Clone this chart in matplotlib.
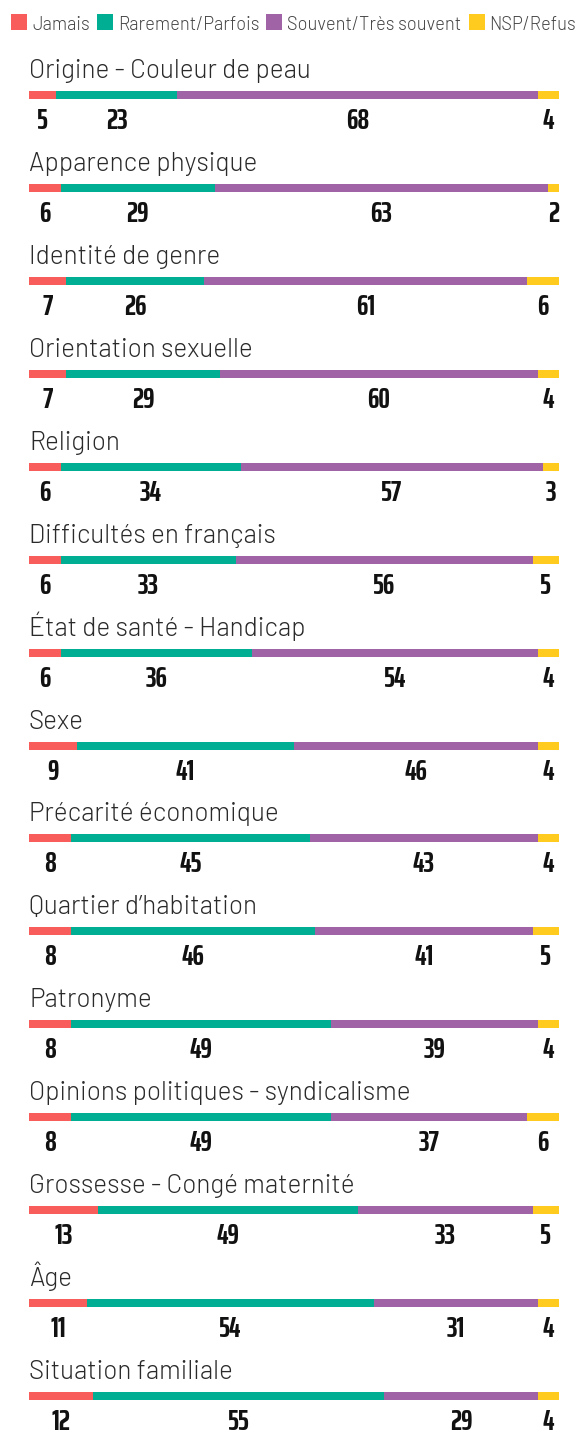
import numpy as np
import matplotlib
matplotlib.use("Agg")
import matplotlib.pyplot as plt
from matplotlib.patches import Rectangle

# data
categories = ["Origine - Couleur de peau", "Apparence physique", "Identité de genre",
              "Orientation sexuelle", "Religion", "Difficultés en français",
              "État de santé - Handicap", "Sexe", "Précarité économique",
              "Quartier d’habitation", "Patronyme", "Opinions politiques - syndicalisme",
              "Grossesse - Congé maternité", "Âge", "Situation familiale"]
jamais = [5, 6, 7, 7, 6, 6, 6, 9, 8, 8, 8, 8, 13, 11, 12]
rarement = [23, 29, 26, 29, 34, 33, 36, 41, 45, 46, 49, 49, 49, 54, 55]
souvent = [68, 63, 61, 60, 57, 56, 54, 46, 43, 41, 39, 37, 33, 31, 29]
nsp = [4, 2, 6, 4, 3, 5, 4, 4, 4, 5, 4, 6, 5, 4, 4]
series_names = ["Jamais", "Rarement/Parfois", "Souvent/Très souvent", "NSP/Refus"]
colors = ["#F95D5B", "#00AE94", "#A064A6", "#FFCB1F"]

title_font = ["Barlow", "Roboto", "DejaVu Sans"]
num_font = ["Saira ExtraCondensed", "Barlow Condensed", "DejaVu Sans"]

W, H = 578, 1434
fig = plt.figure(figsize=(W / 100, H / 100), dpi=100)

# main axes: x in percent, y in pixels
ax = fig.add_axes([29 / W, 0, 530 / W, 1])
ax.set_xlim(0, 100)
ax.set_ylim(H, 0)
ax.axis("off")

y0 = 95
step = 92.93
ys = y0 + step * np.arange(len(categories))

series = [jamais, rarement, souvent, nsp]
left = np.zeros(len(categories))
for vals, c in zip(series, colors):
    vals = np.array(vals)
    ax.barh(ys, vals, left=left, height=8, color=c, linewidth=0)
    for y, l, v in zip(ys, left, vals):
        ax.text(l + v / 2, y + 34, str(v), ha="center", va="baseline",
                fontsize=21, fontweight="bold", family=num_font,
                color="#111111")
    left = left + vals

for y, name in zip(ys, categories):
    ax.text(0, y - 17, name, ha="left", va="baseline", fontsize=18.8,
            family=title_font, fontweight=300, color="#2a2a2a")

# legend, laid out in pixels
lax = fig.add_axes([0, 0, 1, 1])
lax.set_xlim(0, W)
lax.set_ylim(H, 0)
lax.axis("off")
fig.canvas.draw()
renderer = fig.canvas.get_renderer()
x = 11
for name, c in zip(series_names, colors):
    lax.add_patch(Rectangle((x, 14), 16, 16, color=c, linewidth=0))
    t = lax.text(x + 21, 29.5, name, ha="left", va="baseline", fontsize=13.2,
                 family=title_font, fontweight=300, color="#444444")
    bb = t.get_window_extent(renderer=renderer)
    x = x + 21 + bb.width + 7

fig.savefig("out.png", dpi=100)
